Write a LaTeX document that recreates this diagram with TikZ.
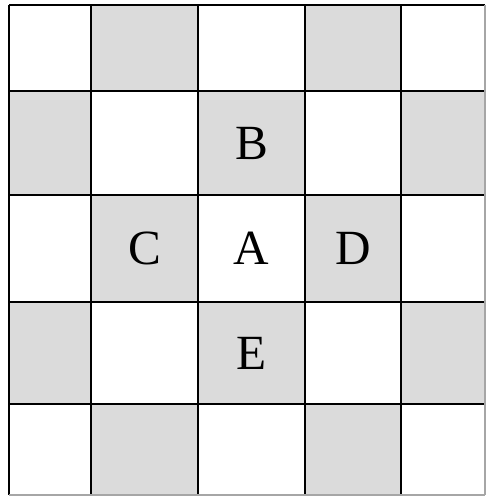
\documentclass[tikz,border=0pt]{standalone}
\usepackage{fontspec}
\setmainfont{Liberation Serif}
\definecolor{cellgray}{gray}{0.86}
\tikzset{letter/.style={font=\fontsize{28}{30}\selectfont}}
\begin{document}
\begin{tikzpicture}[x=0.02cm,y=-0.02cm]
\useasboundingbox (0,0) rectangle (487,497);
\def\xs{{9,91,198,305,401,485}}
\def\ys{{5,91,195,302,404,495}}
% shaded cells
\foreach \i in {0,...,4}{
  \foreach \j in {0,...,4}{
    \pgfmathtruncatemacro{\odd}{mod(\i+\j,2)}
    \pgfmathsetmacro{\xa}{\xs[\i]}
    \pgfmathsetmacro{\xb}{\xs[\i+1]}
    \pgfmathsetmacro{\ya}{\ys[\j]}
    \pgfmathsetmacro{\yb}{\ys[\j+1]}
    \ifnum\odd=1 \fill[cellgray] (\xa,\ya) rectangle (\xb,\yb); \fi
  }
}
% grid
\foreach \k in {0,...,4}{
  \pgfmathsetmacro{\xk}{\xs[\k]}
  \pgfmathsetmacro{\yk}{\ys[\k]}
  \draw[line width=1.5pt] (\xk,5)--(\xk,495);
  \draw[line width=1.5pt] (9,\yk)--(485,\yk);
}
\draw[black!35,line width=0.6pt] (485,5)--(485,495);
\draw[black!35,line width=0.6pt] (9,495)--(485,495);
\node[letter] (B) at (251.5,143) {B};
\node[letter] (C) at (144.5,248.5) {C};
\node[letter] (A) at (251.5,248.5) {A};
\node[letter] (D) at (353,248.5) {D};
\node[letter] (E) at (251.5,353) {E};
\end{tikzpicture}
\end{document}
